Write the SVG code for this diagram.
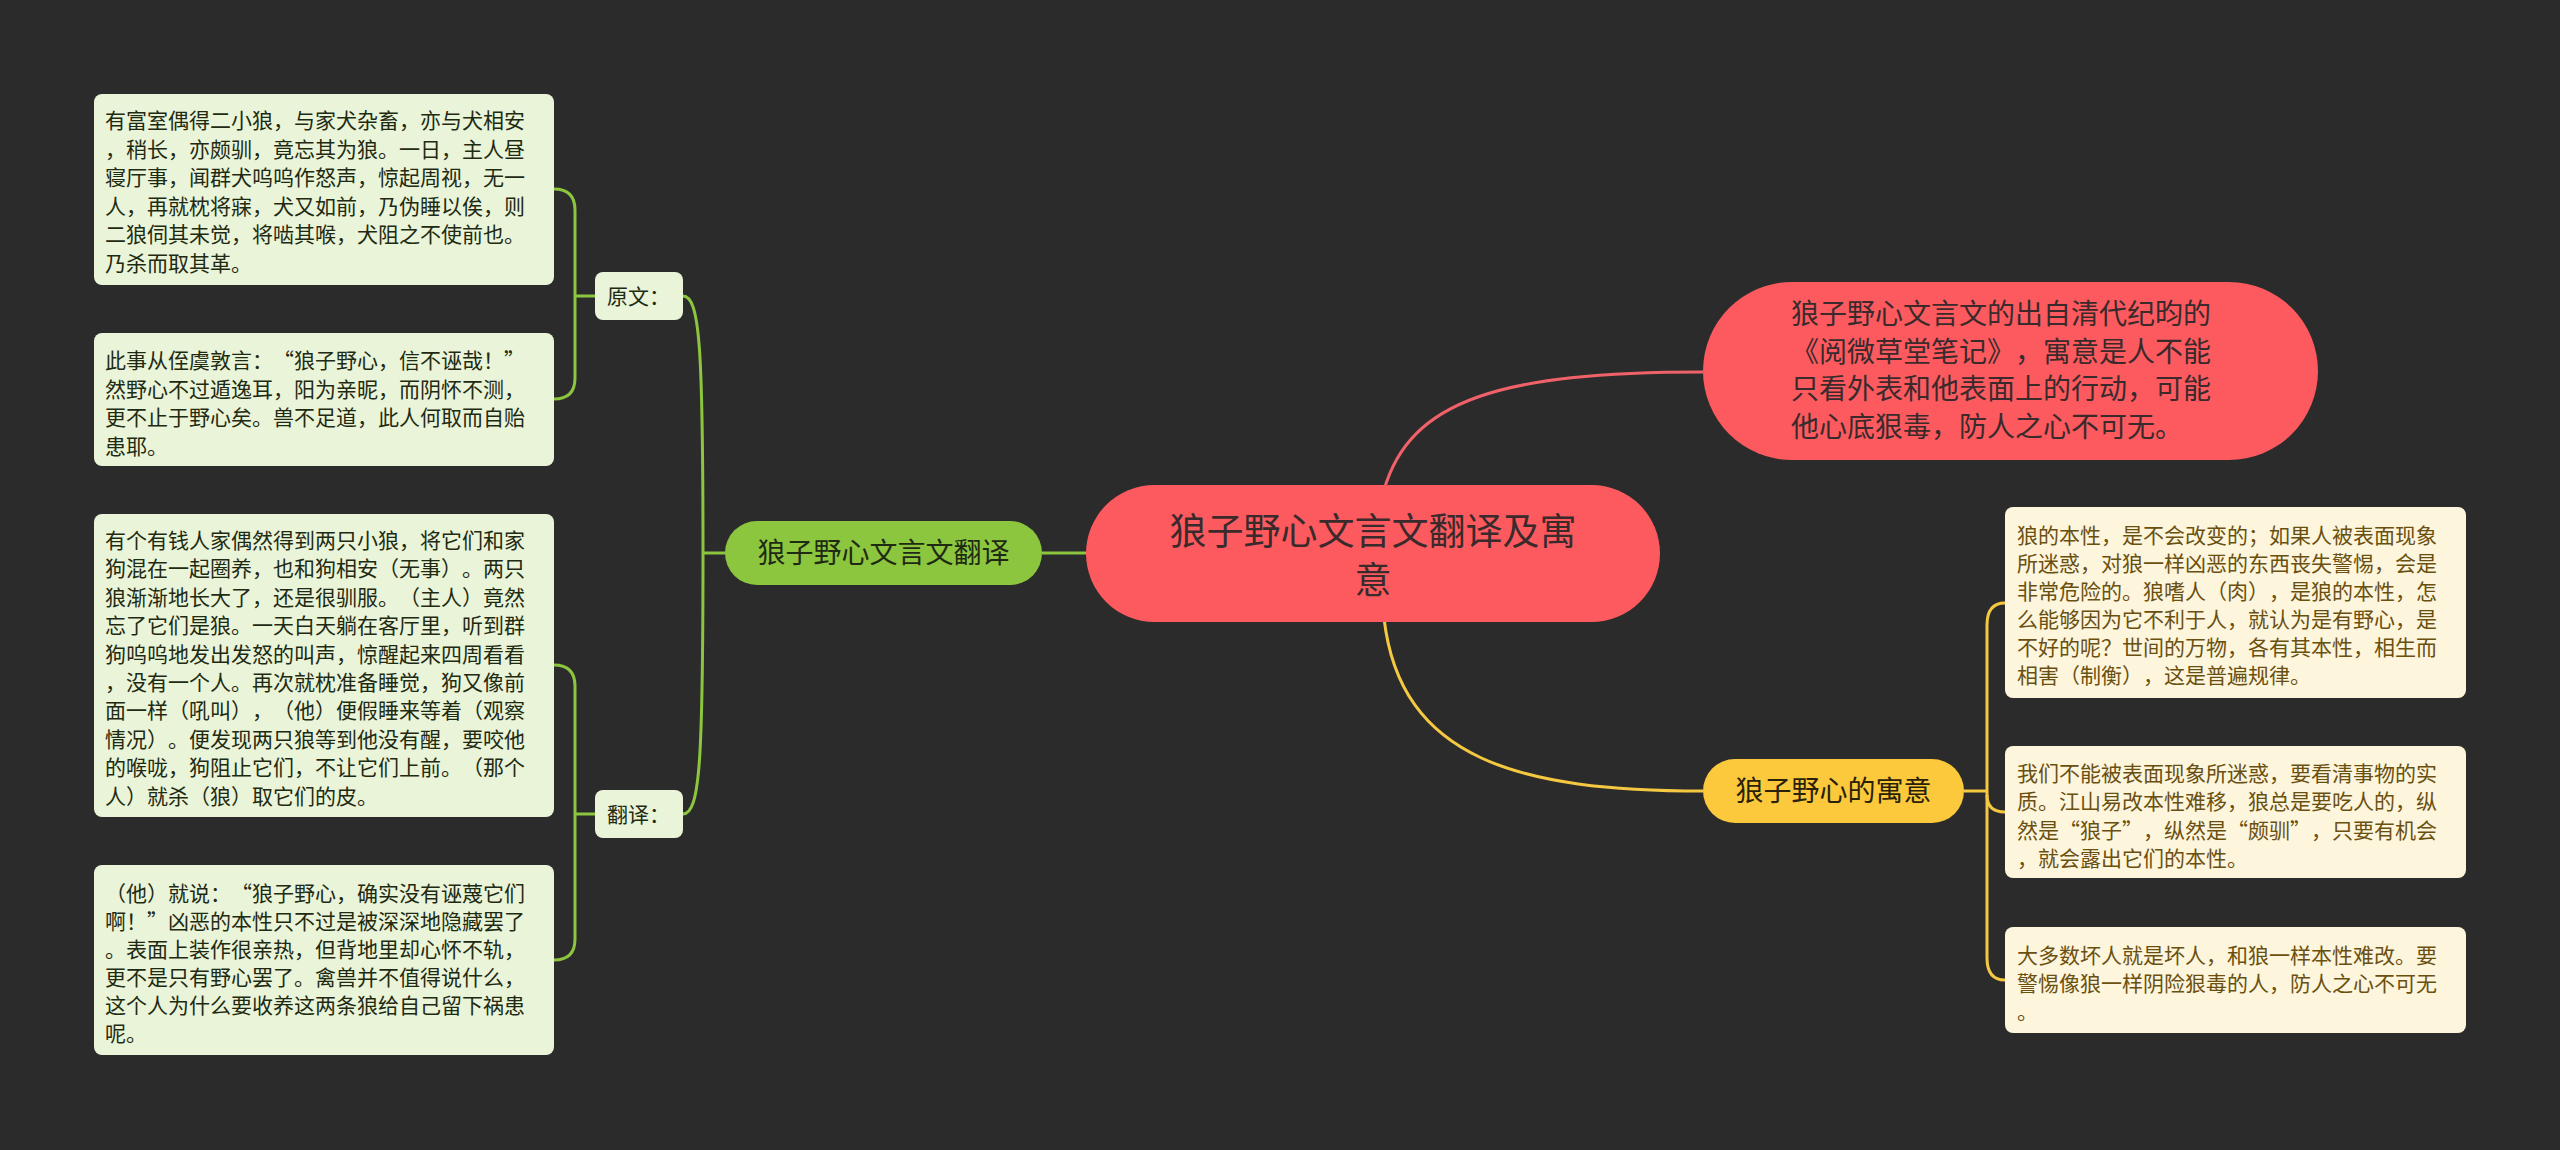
<svg xmlns="http://www.w3.org/2000/svg" width="2560" height="1150" viewBox="0 0 2560 1150" lang="zh-CN">
<style>
.t{font-family:"Noto Sans CJK SC","Noto Sans",sans-serif;text-spacing-trim:space-all;font-kerning:none;}
.lg{fill:#e9f4d8;}
.lgt{font-size:21px;fill:#1f2a12;}
.cr{fill:#fdf5dc;}
.crt{font-size:21px;fill:#6a5010;}
.cg{fill:none;stroke:#8cc63f;stroke-width:3;}
.cy{fill:none;stroke:#f5c842;stroke-width:3;}
.cred{fill:none;stroke:#f0626a;stroke-width:3;}
</style>
<rect width="2560" height="1150" fill="#2b2b2b"/>
<g id="connectors">
<path class="cred" d="M1384,490 C1410,400 1500,372 1703,372"/>
<path class="cy" d="M1384,618 C1400,760 1520,791 1703,791"/>
<path class="cg" d="M1042,553 L1086,553"/>
<path class="cg" d="M725,553 L703,553"/>
<path class="cg" d="M683,296 C700,296 703,350 703,553 C703,760 700,814 683,814"/>
<path class="cg" d="M595,296 L575,296"/>
<path class="cg" d="M554,189 Q575,189 575,210 L575,378 Q575,399 554,399"/>
<path class="cg" d="M595,814 L575,814"/>
<path class="cg" d="M554,665 Q575,665 575,686 L575,939 Q575,960 554,960"/>
<path class="cy" d="M1964,791 L1987,791"/>
<path class="cy" d="M2005,603 Q1987,603 1987,625 L1987,958 Q1987,980 2005,980"/>
<path class="cy" d="M1987,795 Q1987,812 2005,812"/>
</g>
<g id="root">
<rect x="1086" y="485" width="574" height="137" rx="68.5" fill="#fc5a5f"/>
<text class="t" font-size="37" fill="#3a2a2c" text-anchor="middle"><tspan x="1373" y="545">狼子野心文言文翻译及寓</tspan><tspan x="1373" y="594">意</tspan></text>
</g>
<g id="n-source">
<rect x="1703" y="282" width="615" height="178" rx="89" fill="#fc5a5f"/>
<text class="t" font-size="28" fill="#3a2a2c"><tspan x="1791" y="324">狼子野心文言文的出自清代纪昀的</tspan><tspan x="1791" y="362">《阅微草堂笔记》，寓意是人不能</tspan><tspan x="1791" y="399">只看外表和他表面上的行动，可能</tspan><tspan x="1791" y="437">他心底狠毒，防人之心不可无。</tspan></text>
</g>
<g id="n-translate">
<rect x="725" y="521" width="317" height="64" rx="32" fill="#8cc63f"/>
<text class="t" font-size="28" fill="#1f2a12" text-anchor="middle" x="883.5" y="563">狼子野心文言文翻译</text>
</g>
<g id="n-meaning">
<rect x="1703" y="759" width="261" height="64" rx="32" fill="#fbc93b"/>
<text class="t" font-size="28" fill="#2a2208" text-anchor="middle" x="1833.5" y="801">狼子野心的寓意</text>
</g>
<g id="n-yuanwen">
<rect class="lg" x="595" y="272" width="88" height="48" rx="8"/>
<text class="t lgt" x="607" y="304">原文：</text>
</g>
<g id="n-fanyi">
<rect class="lg" x="595" y="790" width="88" height="48" rx="8"/>
<text class="t lgt" x="607" y="822">翻译：</text>
</g>
<g id="leaf-y1">
<rect class="lg" x="94" y="94" width="460" height="191" rx="8"/>
<text class="t lgt"><tspan x="105" y="128">有富室偶得二小狼，与家犬杂畜，亦与犬相安</tspan><tspan x="105" y="156.5">，稍长，亦颇驯，竟忘其为狼。一日，主人昼</tspan><tspan x="105" y="185">寝厅事，闻群犬呜呜作怒声，惊起周视，无一</tspan><tspan x="105" y="213.5">人，再就枕将寐，犬又如前，乃伪睡以俟，则</tspan><tspan x="105" y="242">二狼伺其未觉，将啮其喉，犬阻之不使前也。</tspan><tspan x="105" y="270.5">乃杀而取其革。</tspan></text>
</g>
<g id="leaf-y2">
<rect class="lg" x="94" y="333" width="460" height="133" rx="8"/>
<text class="t lgt"><tspan x="105" y="368">此事从侄虞敦言：“狼子野心，信不诬哉！”</tspan><tspan x="105" y="396.5">然野心不过遁逸耳，阳为亲昵，而阴怀不测，</tspan><tspan x="105" y="425">更不止于野心矣。兽不足道，此人何取而自贻</tspan><tspan x="105" y="453.5">患耶。</tspan></text>
</g>
<g id="leaf-f1">
<rect class="lg" x="94" y="514" width="460" height="303" rx="8"/>
<text class="t lgt"><tspan x="105" y="548">有个有钱人家偶然得到两只小狼，将它们和家</tspan><tspan x="105" y="576.4">狗混在一起圈养，也和狗相安（无事）。两只</tspan><tspan x="105" y="604.8">狼渐渐地长大了，还是很驯服。（主人）竟然</tspan><tspan x="105" y="633.2">忘了它们是狼。一天白天躺在客厅里，听到群</tspan><tspan x="105" y="661.6">狗呜呜地发出发怒的叫声，惊醒起来四周看看</tspan><tspan x="105" y="690">，没有一个人。再次就枕准备睡觉，狗又像前</tspan><tspan x="105" y="718.4">面一样（吼叫），（他）便假睡来等着（观察</tspan><tspan x="105" y="746.8">情况）。便发现两只狼等到他没有醒，要咬他</tspan><tspan x="105" y="775.2">的喉咙，狗阻止它们，不让它们上前。（那个</tspan><tspan x="105" y="803.6">人）就杀（狼）取它们的皮。</tspan></text>
</g>
<g id="leaf-f2">
<rect class="lg" x="94" y="865" width="460" height="190" rx="8"/>
<text class="t lgt"><tspan x="105" y="901">（他）就说：“狼子野心，确实没有诬蔑它们</tspan><tspan x="105" y="929">啊！”凶恶的本性只不过是被深深地隐藏罢了</tspan><tspan x="105" y="957">。表面上装作很亲热，但背地里却心怀不轨，</tspan><tspan x="105" y="985">更不是只有野心罢了。禽兽并不值得说什么，</tspan><tspan x="105" y="1013">这个人为什么要收养这两条狼给自己留下祸患</tspan><tspan x="105" y="1041">呢。</tspan></text>
</g>
<g id="leaf-m1">
<rect class="cr" x="2005" y="507" width="461" height="191" rx="8"/>
<text class="t crt"><tspan x="2017" y="543">狼的本性，是不会改变的；如果人被表面现象</tspan><tspan x="2017" y="571">所迷惑，对狼一样凶恶的东西丧失警惕，会是</tspan><tspan x="2017" y="599">非常危险的。狼嗜人（肉），是狼的本性，怎</tspan><tspan x="2017" y="627">么能够因为它不利于人，就认为是有野心，是</tspan><tspan x="2017" y="655">不好的呢？世间的万物，各有其本性，相生而</tspan><tspan x="2017" y="683">相害（制衡），这是普遍规律。</tspan></text>
</g>
<g id="leaf-m2">
<rect class="cr" x="2005" y="746" width="461" height="132" rx="8"/>
<text class="t crt"><tspan x="2017" y="781">我们不能被表面现象所迷惑，要看清事物的实</tspan><tspan x="2017" y="809.3">质。江山易改本性难移，狼总是要吃人的，纵</tspan><tspan x="2017" y="837.6">然是“狼子”，纵然是“颇驯”，只要有机会</tspan><tspan x="2017" y="865.9">，就会露出它们的本性。</tspan></text>
</g>
<g id="leaf-m3">
<rect class="cr" x="2005" y="927" width="461" height="106" rx="8"/>
<text class="t crt"><tspan x="2017" y="963">大多数坏人就是坏人，和狼一样本性难改。要</tspan><tspan x="2017" y="991">警惕像狼一样阴险狠毒的人，防人之心不可无</tspan><tspan x="2017" y="1019">。</tspan></text>
</g>
</svg>
